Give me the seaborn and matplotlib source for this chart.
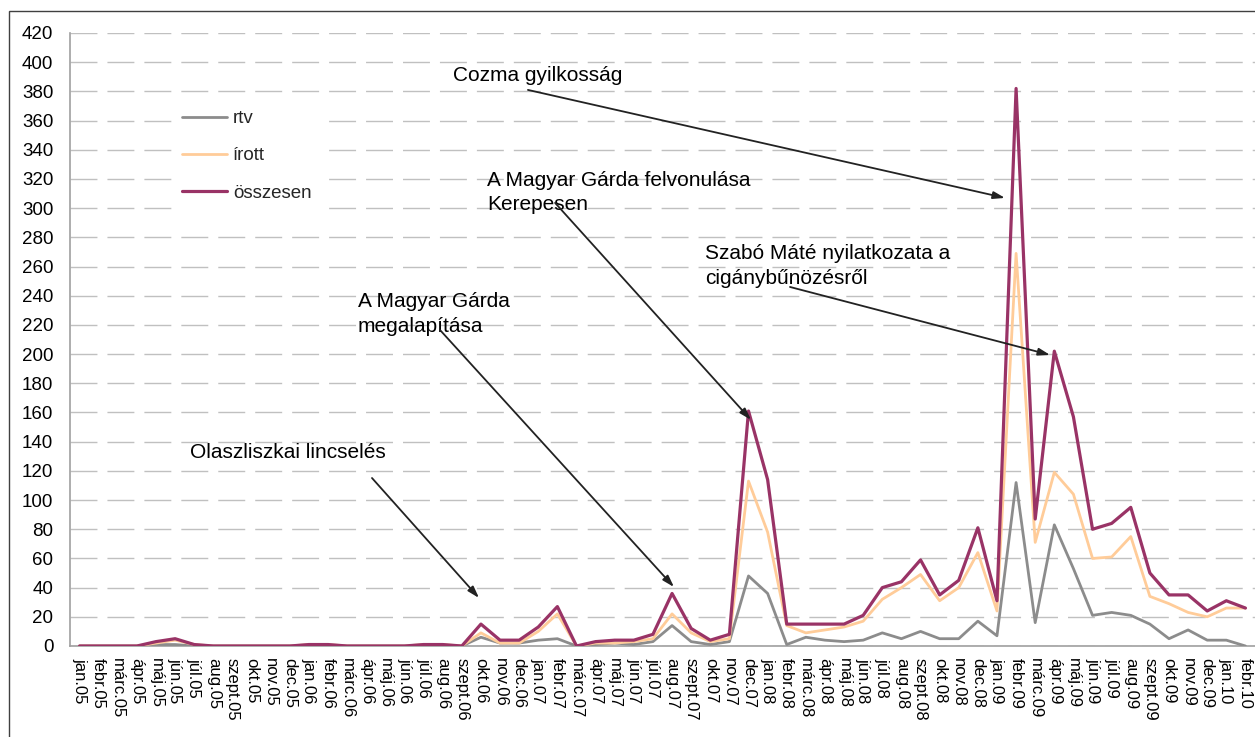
import matplotlib
matplotlib.use("Agg")
import matplotlib.pyplot as plt
from matplotlib.patches import Rectangle
import seaborn as sns
import pandas as pd
import numpy as np

# ---------------- data ----------------
months = [
    "jan.05", "febr.05", "márc.05", "ápr.05", "máj.05", "jún.05", "júl.05", "aug.05", "szept.05", "okt.05", "nov.05", "dec.05",
    "jan.06", "febr.06", "márc.06", "ápr.06", "máj.06", "jún.06", "júl.06", "aug.06", "szept.06", "okt.06", "nov.06", "dec.06",
    "jan.07", "febr.07", "márc.07", "ápr.07", "máj.07", "jún.07", "júl.07", "aug.07", "szept.07", "okt.07", "nov.07", "dec.07",
    "jan.08", "febr.08", "márc.08", "ápr.08", "máj.08", "jún.08", "júl.08", "aug.08", "szept.08", "okt.08", "nov.08", "dec.08",
    "jan.09", "febr.09", "márc.09", "ápr.09", "máj.09", "jún.09", "júl.09", "aug.09", "szept.09", "okt.09", "nov.09", "dec.09",
    "jan.10", "febr.10",
]

rtv = [0, 0, 0, 0, 1, 1, 0, 0, 0, 0, 0, 0,
       0, 0, 0, 0, 0, 0, 0, 0, 0, 6, 2, 2,
       4, 5, 0, 1, 2, 1, 3, 14, 3, 1, 3, 48,
       36, 1, 6, 4, 3, 4, 9, 5, 10, 5, 5, 17,
       7, 112, 16, 83, 53, 21, 23, 21, 15, 5, 11, 4,
       4, 0]

irott = [0, 0, 0, 0, 2, 4, 1, 0, 0, 0, 0, 0,
         1, 1, 0, 0, 0, 0, 1, 1, 0, 9, 2, 2,
         10, 22, 0, 2, 2, 3, 5, 22, 9, 3, 5, 113,
         78, 14, 9, 11, 13, 17, 32, 40, 49, 31, 40, 64,
         24, 269, 71, 119, 104, 60, 61, 75, 34, 29, 23, 20,
         26, 26]

osszesen = [0, 0, 0, 0, 3, 5, 1, 0, 0, 0, 0, 0,
            1, 1, 0, 0, 0, 0, 1, 1, 0, 15, 4, 4,
            13, 27, 0, 3, 4, 4, 8, 36, 12, 4, 8, 161,
            114, 15, 15, 15, 15, 21, 40, 44, 59, 35, 45, 81,
            31, 382, 87, 202, 157, 80, 84, 95, 50, 35, 35, 24,
            31, 26]

series_names = ["rtv", "írott", "összesen"]
series_colors = ["#8C8C8C", "#FFCC99", "#993366"]
y_ticks = list(range(0, 421, 20))

annotations = [
    # text, text position (x idx, y), arrow start, arrow end
    ("Cozma gyilkosság", (19.54, 391.2), (23.46, 381.0), (48.42, 307.0)),
    ("A Magyar Gárda felvonulása\nKerepesen", (21.32, 310.7), (24.88, 303.6), (35.13, 154.9)),
    ("Szabó Máté nyilatkozata a\ncigánybűnözésről", (32.73, 260.4), (37.17, 246.0), (50.78, 199.4)),
    ("A Magyar Gárda\nmegalapítása", (14.57, 227.5), (18.86, 216.5), (31.10, 40.4)),
    ("Olaszliszkai lincselés", (5.78, 132.9), (15.30, 115.1), (20.90, 32.9)),
]

# ---------------- style ----------------
sns.set_style("white")
plt.rcParams["font.family"] = ["Liberation Sans", "DejaVu Sans"]

fig = plt.figure(figsize=(12.55, 7.37), dpi=100)
ax = fig.add_axes([70 / 1255, 91 / 737, 1185 / 1255, 613 / 737])

x = np.arange(len(months))
widths = [2.0, 2.0, 2.3]
for name, vals, col, lw in zip(series_names, [rtv, irott, osszesen], series_colors, widths):
    sns.lineplot(x=x, y=vals, ax=ax, color=col, linewidth=lw, label=name, zorder=3)

ax.set_xlim(-0.5, len(months) - 0.5)
ax.set_ylim(0, 420)
ax.set_yticks(y_ticks)
ax.set_yticklabels([str(v) for v in y_ticks], fontsize=13.5)
ax.set_xticks(x)
ax.set_xticklabels(months, rotation=-90, fontsize=12)
ax.tick_params(axis="both", length=0, colors="black")
ax.tick_params(axis="y", pad=12)
ax.tick_params(axis="x", pad=9)

ax.yaxis.grid(True, color="#C0C0C0", linewidth=1.0, linestyle=(0, (19.4, 7.2)), zorder=0)
ax.xaxis.grid(False)
ax.set_axisbelow(True)
for side in ["top", "right"]:
    ax.spines[side].set_visible(False)
for side in ["left", "bottom"]:
    ax.spines[side].set_color("#A0A0A0")
    ax.spines[side].set_linewidth(1.2)

leg = ax.legend(loc="upper left", bbox_to_anchor=(0.079, 0.905), fontsize=13.5,
                frameon=True, facecolor="white", edgecolor="none", framealpha=1,
                handlelength=2.4, handletextpad=0.3, labelspacing=1.08, borderpad=0.5,
                fancybox=False)

for txt, tpos, astart, aend in annotations:
    ax.text(tpos[0], tpos[1], txt, fontsize=15, ha="left", va="center",
            linespacing=1.35, color="black", zorder=5)
    ax.annotate("", xy=aend, xytext=astart,
                arrowprops=dict(arrowstyle="-|>,head_length=0.7,head_width=0.22",
                                color="#222222", lw=1.3, shrinkA=0, shrinkB=0),
                zorder=5)

# outer frame of the chart area
fig.patches.append(Rectangle((9 / 1255, -0.2), 1.5, 0.2 + (1 - 11 / 737),
                             transform=fig.transFigure, fill=False,
                             edgecolor="#404040", linewidth=1.0))

fig.savefig("out.png", dpi=100)
